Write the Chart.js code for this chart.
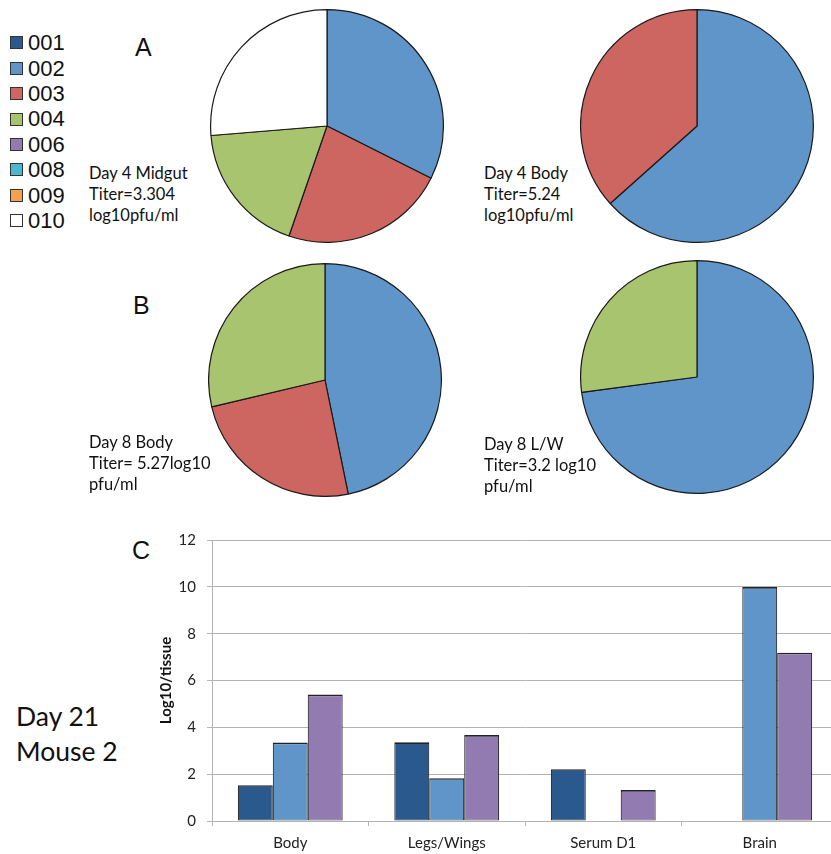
<!DOCTYPE html>
<html><head><meta charset="utf-8">
<script src="https://cdn.jsdelivr.net/npm/chart.js@4"></script>
<style>
html,body{margin:0;padding:0;background:#fff;width:831px;height:854px;overflow:hidden;position:relative;}
.abs{position:absolute;}
.panel{font-family:"Liberation Sans",Arial,sans-serif;font-size:25px;line-height:25px;color:#111;}
.ptext{font-family:Lato,sans-serif;font-size:16.5px;line-height:21px;color:#111;white-space:nowrap;}
.big{font-family:Lato,sans-serif;font-size:26.5px;line-height:35px;color:#111;white-space:nowrap;}
#legend .row{display:flex;align-items:center;height:25.4px;}
#legend .sw{width:13px;height:13px;border:1px solid #333;box-sizing:border-box;margin-right:5px;}
#legend .lb{font-family:"Liberation Sans",Arial,sans-serif;font-size:22px;line-height:25.4px;color:#111;}
</style></head>
<body>
<div id="legend" class="abs" style="left:10px;top:30.3px"></div>
<div class="abs panel" style="left:135px;top:34.7px">A</div>
<div class="abs panel" style="left:133px;top:293.4px">B</div>
<div class="abs panel" style="left:132px;top:538.4px">C</div>

<canvas id="p1" class="abs" width="234" height="234" style="left:210px;top:9px"></canvas>
<canvas id="p2" class="abs" width="234" height="234" style="left:580px;top:9px"></canvas>
<canvas id="p3" class="abs" width="234" height="234" style="left:208px;top:263px"></canvas>
<canvas id="p4" class="abs" width="234" height="234" style="left:580px;top:260px"></canvas>

<div class="abs ptext" style="left:89px;top:162.5px">Day 4 Midgut<br>Titer=3.304<br>log10pfu/ml</div>
<div class="abs ptext" style="left:484px;top:162.5px">Day 4 Body<br>Titer=5.24<br>log10pfu/ml</div>
<div class="abs ptext" style="left:89px;top:431.5px">Day 8 Body<br>Titer= 5.27log10<br>pfu/ml</div>
<div class="abs ptext" style="left:484px;top:433.5px">Day 8 L/W<br>Titer=3.2 log10<br>pfu/ml</div>

<div class="abs big" style="left:16px;top:699px">Day 21<br>Mouse 2</div>

<canvas id="bar" class="abs" width="688" height="334" style="left:150px;top:520px"></canvas>

<script>
// Strain legend
const strains = ['001','002','003','004','006','008','009','010'];
const strainColors = ['#2A5A8D','#5F95C9','#CD6660','#A9C46E','#927BB0','#4BB8CF','#F7A14C','#FFFFFF'];

// Pie A: Day 4 Midgut / Day 4 Body
const day4MidgutLabels = ['002','003','004','010'];
const day4MidgutValues = [32.4, 22.9, 18.4, 26.3];
const day4BodyLabels = ['002','003'];
const day4BodyValues = [63.4, 36.6];
// Pie B: Day 8 Body / Day 8 L/W
const day8BodyLabels = ['002','003','004'];
const day8BodyValues = [46.8, 24.5, 28.7];
const day8LWLabels = ['002','004'];
const day8LWValues = [72.9, 27.1];

// Bar C: Day 21 Mouse 2
const tissues = ['Body','Legs/Wings','Serum D1','Brain'];
const s001 = [1.53, 3.36, 2.21, null];
const s002 = [3.35, 1.83, null, 9.99];
const s006 = [5.40, 3.67, 1.32, 7.19];
const yTicks = [0, 2, 4, 6, 8, 10, 12];

const colorOf = s => strainColors[strains.indexOf(s)];

// legend (HTML)
const lg = document.getElementById('legend');
strains.forEach(s => {
  const r = document.createElement('div'); r.className = 'row';
  const sw = document.createElement('div'); sw.className = 'sw'; sw.style.background = colorOf(s);
  const lb = document.createElement('div'); lb.className = 'lb'; lb.textContent = s;
  r.appendChild(sw); r.appendChild(lb); lg.appendChild(r);
});

function pie(id, labels, values) {
  new Chart(document.getElementById(id), {
    type: 'pie',
    data: { labels: labels, datasets: [{ data: values, backgroundColor: labels.map(colorOf), borderColor: '#1a1a1a', borderWidth: 1.2 }] },
    options: { responsive: false, animation: false, layout: { padding: 0 },
      plugins: { legend: { display: false }, tooltip: { enabled: false } } }
  });
}
pie('p1', day4MidgutLabels, day4MidgutValues);
pie('p2', day4BodyLabels, day4BodyValues);
pie('p3', day8BodyLabels, day8BodyValues);
pie('p4', day8LWLabels, day8LWValues);

const gridC = '#b3b3b3';
const bw = { top: 1.6, left: 1.1, right: 1.1, bottom: 0.8 };
const ds = (lab, data) => ({ label: lab, data: data, backgroundColor: colorOf(lab), borderColor: '#222', borderWidth: bw, borderSkipped: false });
new Chart(document.getElementById('bar'), {
  type: 'bar',
  data: { labels: tissues, datasets: [ ds('001', s001), ds('002', s002), ds('006', s006) ] },
  options: {
    responsive: false, animation: false,
    layout: { padding: { top: 20, left: 0, right: 0, bottom: 0 } },
    plugins: { legend: { display: false }, tooltip: { enabled: false } },
    datasets: { bar: { categoryPercentage: 0.67, barPercentage: 1 } },
    scales: {
      x: {
        grid: { drawOnChartArea: false, tickLength: 5, color: gridC, offset: true },
        border: { color: gridC },
        ticks: { padding: 8, color: '#222', font: { family: 'Lato', size: 15 } },
        afterFit(s) { s.height = 33; }
      },
      y: {
        min: 0, max: 12,
        afterBuildTicks(s) { s.ticks = yTicks.map(v => ({ value: v })); },
        ticks: { padding: 11, color: '#222', font: { family: 'Lato', size: 15 } },
        grid: { color: gridC, tickLength: 5 },
        border: { color: gridC },
        title: { display: true, text: 'Log10/tissue', color: '#111', padding: { top: 7, bottom: 0 },
                 font: { family: 'Lato', size: 15, weight: 'bold' } },
        afterFit(s) { s.width = 62; }
      }
    }
  }
});
</script>
</body></html>
